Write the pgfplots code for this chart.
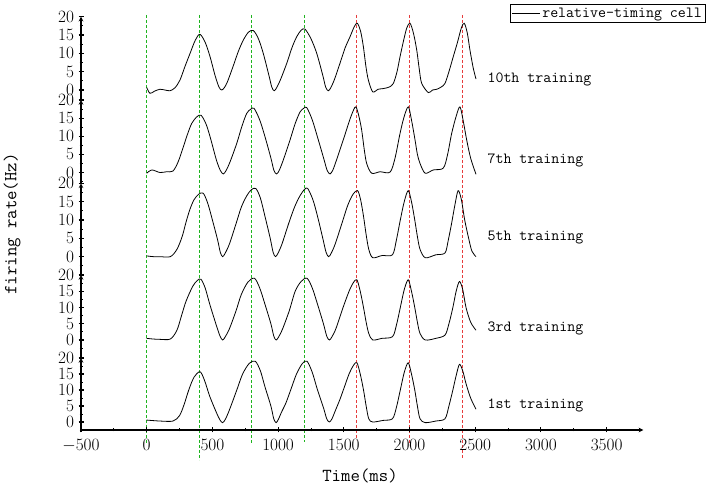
\documentclass[border=0pt]{standalone}
\usepackage{fontspec}
\usepackage{pgfplots}
\pgfplotsset{compat=1.18}
\definecolor{gdash}{RGB}{30,180,30}
\definecolor{rdash}{RGB}{230,60,60}
\newcommand{\tickfont}{\fontsize{16.5}{16.5}\selectfont}
\newcommand{\txtfont}{\ttfamily\fontsize{15.5}{16}\selectfont}
\newcommand{\labfont}{\ttfamily\fontsize{18.3}{19}\selectfont}
\pgfplotsset{
  panel/.style={
    scale only axis, width=562.4pt, xmin=-500, xmax=3780, ymax=20,
    anchor=south west, clip=false,
    axis line style={-, line width=1.1pt},
    ytick={0,5,10,15,20},
    minor ytick={-2.5,2.5,7.5,12.5,17.5},
    tick align=outside, major tick length=5pt, minor tick length=3pt,
    every tick/.style={black, line width=1.1pt},
    minor tick style={line width=0.9pt},
    yticklabel style={font=\tickfont, xshift=-1pt},
    /pgf/number format/1000 sep={},
  },
  inner/.style={axis x line=none, axis y line=left},
  curve/.style={black, line width=0.8pt, smooth, tension=0.5, no markers},
  vref/.style={line width=1pt, dash pattern=on 3pt off 2pt},
}
\begin{document}
\begin{tikzpicture}[x=1pt,y=1pt]
\path[use as bounding box] (0,0) rectangle (709,486);

% dashed reference lines
\begin{axis}[scale only axis, width=562.4pt, height=486pt, at={(81pt,0pt)}, anchor=south west,
  xmin=-500, xmax=3780, ymin=0, ymax=486, hide axis, clip=false]
\addplot[gdash, vref] coordinates {(0,471) (0,43)};
\addplot[gdash, vref] coordinates {(400,471) (400,26)};
\addplot[gdash, vref] coordinates {(800,471) (800,43)};
\addplot[gdash, vref] coordinates {(1200,471) (1200,44)};
\addplot[rdash, vref] coordinates {(1600,471) (1600,46)};
\addplot[rdash, vref] coordinates {(2000,471) (2000,41)};
\addplot[rdash, vref] coordinates {(2400,471) (2400,28)};
\end{axis}

% Panel 1: 10th training
\begin{axis}[panel, inner, at={(81pt,386.8pt)}, height=82.5pt, ymin=-2.5,
  legend style={at={(1.111,1.154)}, anchor=north east, draw=black, line width=0.8pt,
    font=\txtfont, inner sep=1.5pt, legend cell align=left},
  legend image code/.code={\draw[#1, line width=0.8pt] (0pt,0pt) -- (28pt,0pt);}]
\addplot[curve] coordinates {
(0,0.7) (25,-0.9) (60,-0.3) (100,0.2) (140,0) (177,-0.2) (215,0.6) (253,2.7) (290,6.3) (330,10) (370,13.6) (405,15.2) (445,13) (482,9.1) (520,4) (550,0.8) (571,0) (592,0.7)
(615,2.3) (657,6.4) (697,10.5) (735,13.6) (775,15.8) (812,16.2) (850,14) (887,10) (930,4) (952,0.8) (970,-0.2) (990,0.7)
(1020,3) (1066,7.3) (1105,11.5) (1141,14.5) (1175,16.3) (1205,16.6) (1250,14) (1294,10) (1340,4) (1362,0.8) (1382,-0.2) (1402,0.7)
(1430,3) (1471,7.3) (1510,11.5) (1547,14.5) (1580,17.3) (1603,18.2) (1628,16) (1649,11.8) (1668,6.5) (1687,2.7) (1720,-0.5)
(1760,0.2) (1801,0.4) (1845,0.8) (1877,1.8) (1905,5) (1928,9.1) (1955,13.5) (1980,17) (2004,18.2) (2030,15.5) (2055,10.9) (2075,5.5) (2093,1.8) (2143,-0.7)
(2175,0) (2207,0.2) (2240,0.8) (2270,1.8) (2300,5) (2333,9.1) (2365,13) (2395,17) (2417,18.2) (2440,15.5) (2460,10.9) (2485,6) (2506,3)
};
\addlegendentry{relative-timing cell}
\end{axis}

% Panel 2: 7th training
\begin{axis}[panel, inner, at={(81pt,302.7pt)}, height=83.3pt, ymin=-2.98]
\addplot[curve] coordinates {
(0,-0.2) (40,0.7) (100,0) (150,0.2) (200,0.4) (240,3) (279,7.1) (310,10.5) (342,13.5) (380,15.3) (413,15.8) (450,13.5) (482,9.9) (530,3.5) (560,0.6) (583,-0.4) (605,0.6)
(635,3) (685,8) (725,12.8) (761,16.3) (790,17.4) (817,17.7) (860,14.5) (900,9.9) (945,4) (968,0.6) (989,-0.4) (1010,0.7)
(1040,3.5) (1091,9) (1130,13.5) (1167,16.7) (1195,17.7) (1218,17.9) (1260,14.5) (1306,9) (1350,3.5) (1373,0.6) (1395,-0.4) (1417,0.7)
(1445,3.5) (1496,9) (1545,14.5) (1575,17.3) (1593,18.1) (1615,15.5) (1636,11.7) (1655,6.5) (1674,2.5) (1712,-0.2)
(1776,0.2) (1852,0.1) (1890,4) (1928,10.8) (1960,15.5) (1991,18.1) (2015,14.5) (2042,9) (2060,5) (2080,2.5) (2119,-0.2)
(2181,0.7) (2257,1.2) (2290,5) (2321,10.8) (2355,15.5) (2384,18.1) (2410,14) (2435,9) (2465,4) (2506,-0.5)
};
\end{axis}

% Panel 3: 5th training
\begin{axis}[panel, inner, at={(81pt,211pt)}, height=91.7pt, ymin=-5]
\addplot[curve] coordinates {
(0,0.2) (50,0) (100,0) (180,0) (230,2) (270,5.5) (300,9.5) (330,13) (360,15.5) (395,17) (430,17.3) (465,14.5) (500,10) (540,4.5) (560,1.2) (578,0) (598,1)
(630,3.5) (680,9) (720,13.5) (760,16.5) (795,18.2) (830,18.6) (865,16) (900,11) (940,5) (962,1.2) (980,0) (1000,1)
(1030,3.5) (1080,9) (1125,13.5) (1165,16.5) (1200,18.3) (1225,18.6) (1265,15.5) (1300,11) (1340,5) (1365,1.2) (1385,0) (1405,1)
(1435,3.5) (1485,9) (1530,14) (1570,17) (1605,18) (1628,15.5) (1650,11) (1670,6) (1690,2) (1720,-0.3)
(1790,0.3) (1870,0.5) (1900,4.5) (1930,10) (1960,15) (1990,18) (2015,15) (2040,10) (2060,5.5) (2080,2) (2120,-0.3)
(2200,0.5) (2270,1) (2295,4.5) (2320,9) (2345,14) (2370,18) (2395,15.5) (2420,10) (2450,5) (2475,1.5) (2506,0)
};
\end{axis}

% Panel 4: 3rd training
\begin{axis}[panel, inner, at={(81pt,128pt)}, height=83pt, ymin=-5.54]
\addplot[curve] coordinates {
(0,0.5) (50,0.3) (100,0.2) (180,0.3) (230,3) (265,7.5) (300,12) (350,16.5) (385,18.3) (413,18.7) (445,16) (480,11) (530,4.5) (558,1.2) (578,0) (598,1)
(630,3.5) (680,9) (720,14) (770,17.8) (820,19) (860,16) (900,11) (945,5) (967,1.2) (985,0) (1005,1)
(1035,3.5) (1085,9) (1130,15) (1175,18) (1220,19) (1260,16) (1300,11) (1345,5) (1370,1.2) (1390,0) (1410,1)
(1440,3.5) (1490,9.5) (1540,15) (1575,17.8) (1600,18.5) (1625,15) (1650,10) (1670,5.5) (1690,2) (1720,0)
(1790,0.5) (1870,1) (1900,4.5) (1930,10) (1960,15.5) (1990,18.5) (2015,15) (2040,10) (2060,5.5) (2080,2) (2120,0)
(2200,0.5) (2270,1.5) (2300,5) (2330,10) (2355,15) (2380,18) (2405,15.5) (2430,10) (2465,5.5) (2506,3)
};
\end{axis}

% Panel 5: 1st training
\begin{axis}[panel, at={(81pt,56pt)}, height=72pt, ymin=-2.5,
  axis x line=bottom, axis y line=left,
  xtick={-500,0,...,3500}, minor xtick={-250,250,...,3750},
  xticklabel style={font=\tickfont, yshift=-3pt}]
\addplot[curve] coordinates {
(0,0.6) (100,0.3) (200,0.3) (250,2) (285,5.5) (320,10) (360,14) (406,15.7) (440,13) (480,8) (530,3) (558,0.6) (578,-0.2) (598,0.8)
(620,2.8) (650,6) (690,10.5) (730,15) (780,18.3) (826,19) (865,16) (900,11) (945,5) (967,1) (985,-0.2) (1003,0.9)
(1025,3) (1060,6) (1100,10.5) (1140,15) (1185,18.3) (1220,19) (1260,15.5) (1300,10) (1345,4.5) (1370,1) (1390,0) (1410,1)
(1435,3.5) (1470,7) (1505,11) (1540,15) (1575,17.8) (1600,18.5) (1625,15) (1650,10) (1670,5) (1690,1) (1720,0)
(1800,0.5) (1870,1) (1900,4.5) (1930,10) (1960,15.5) (1990,18.5) (2015,15) (2040,10) (2060,5) (2080,1) (2120,-0.2)
(2200,0.3) (2270,1) (2300,5) (2330,10) (2355,14.5) (2380,18) (2405,16) (2430,12) (2465,7.5) (2506,4)
};
\end{axis}

\node[anchor=west, font=\txtfont] at (484,407) {10th training};
\node[anchor=west, font=\txtfont] at (484,326) {7th training};
\node[anchor=west, font=\txtfont] at (484,248) {5th training};
\node[anchor=west, font=\txtfont] at (484,158) {3rd training};
\node[anchor=west, font=\txtfont] at (484,81) {1st training};
\node[font=\labfont] at (360,10) {Time(ms)};
\node[font=\labfont, rotate=90] at (12,262) {firing rate(Hz)};
\end{tikzpicture}
\end{document}
